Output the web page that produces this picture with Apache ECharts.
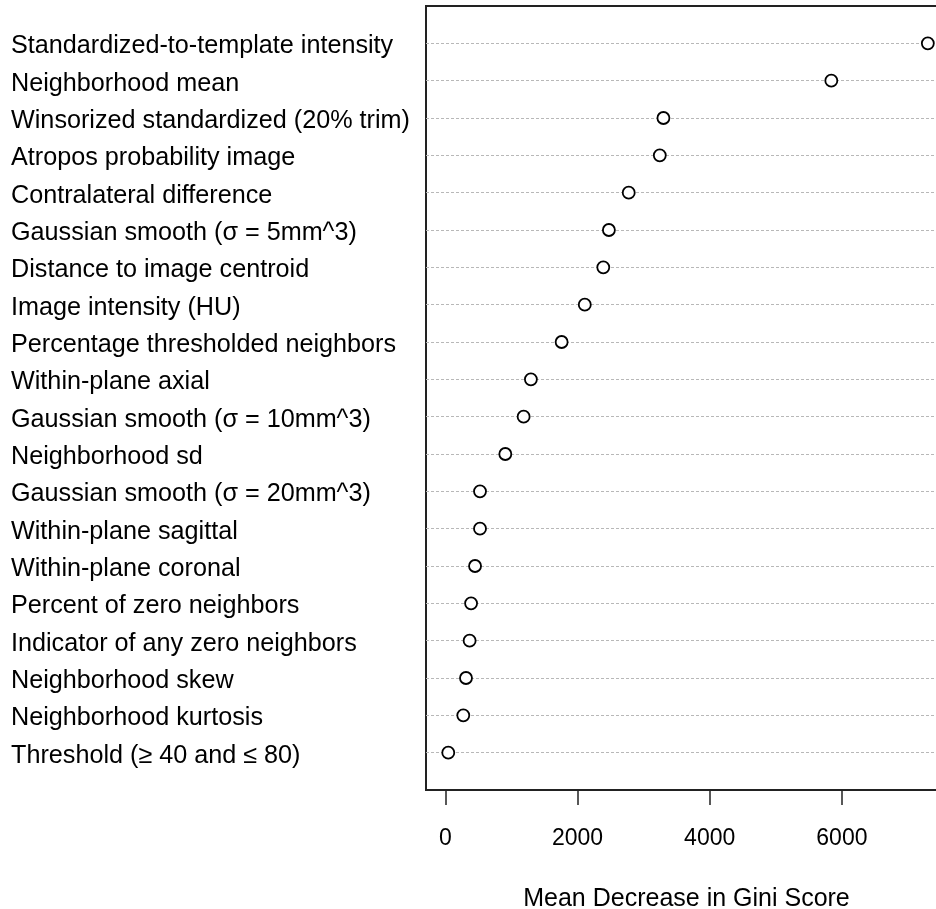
<!DOCTYPE html>
<html>
<head>
<meta charset="utf-8">
<script src="https://cdn.jsdelivr.net/npm/echarts@6/dist/echarts.min.js"></script>
<style>
  html, body { margin: 0; padding: 0; background: #fff; }
  #chart { width: 936px; height: 909px; }
</style>
</head>
<body>
<div id="chart"></div>
<script>
// variable names, top to bottom
const features = [
  'Standardized-to-template intensity',
  'Neighborhood mean',
  'Winsorized standardized (20% trim)',
  'Atropos probability image',
  'Contralateral difference',
  'Gaussian smooth (\u03c3 = 5mm^3)',
  'Distance to image centroid',
  'Image intensity (HU)',
  'Percentage thresholded neighbors',
  'Within-plane axial',
  'Gaussian smooth (\u03c3 = 10mm^3)',
  'Neighborhood sd',
  'Gaussian smooth (\u03c3 = 20mm^3)',
  'Within-plane sagittal',
  'Within-plane coronal',
  'Percent of zero neighbors',
  'Indicator of any zero neighbors',
  'Neighborhood skew',
  'Neighborhood kurtosis',
  'Threshold (\u2265 40 and \u2264 80)'
];
const giniScores = [
  7300, 5840, 3300, 3245, 2775, 2475, 2390, 2110, 1760, 1295,
  1185, 908, 525, 525, 450, 390, 368, 313, 272, 45
];
const xTicks = [0, 2000, 4000, 6000];

const FONT = '"Liberation Sans", Arial, Helvetica, sans-serif';
const n = features.length;

// row 1 is the bottom row, as in a dotchart
const points = giniScores.map((v, i) => [v, n - i]);

const chart = echarts.init(document.getElementById('chart'), null, { renderer: 'canvas' });

chart.setOption({
  backgroundColor: '#fff',
  animation: false,
  grid: {
    left: 426,
    top: 6,
    right: -11,
    bottom: 119,
    outerBoundsMode: 'none',
    containLabel: false,
    show: true,
    borderColor: '#222',
    borderWidth: 2,
    backgroundColor: 'transparent'
  },
  xAxis: {
    type: 'value',
    min: -292,
    max: 7590,
    name: 'Mean Decrease in Gini Score',
    nameLocation: 'middle',
    nameGap: 97,
    nameTextStyle: { color: '#000', fontSize: 25, fontFamily: FONT },
    axisLine: { show: true, onZero: false, lineStyle: { color: '#222', width: 2 } },
    axisTick: {
      show: true,
      length: 15,
      customValues: xTicks,
      lineStyle: { color: '#222', width: 1.5 }
    },
    axisLabel: {
      customValues: xTicks,
      margin: 37,
      color: '#000',
      fontSize: 23,
      fontFamily: FONT,
      formatter: (v) => String(v)
    },
    splitLine: { show: false }
  },
  yAxis: {
    type: 'value',
    min: 0,
    max: n + 1,
    interval: 1,
    axisLine: { show: false },
    axisTick: { show: false },
    axisLabel: {
      align: 'left',
      verticalAlign: 'top',
      lineHeight: 6,
      margin: 415,
      color: '#000',
      fontSize: 25.2,
      fontFamily: FONT,
      showMinLabel: false,
      showMaxLabel: false,
      formatter: (v) => features[n - v] || ''
    },
    splitLine: {
      show: true,
      showMinLine: false,
      showMaxLine: false,
      lineStyle: { color: '#b8b8b8', type: [3, 2], width: 1 }
    }
  },
  series: [
    {
      type: 'scatter',
      data: points,
      symbol: 'circle',
      symbolSize: 12,
      z: 5,
      itemStyle: { color: '#fff', borderColor: '#000', borderWidth: 1.8, opacity: 1 },
      emphasis: { disabled: true }
    }
  ]
});
</script>
</body>
</html>
